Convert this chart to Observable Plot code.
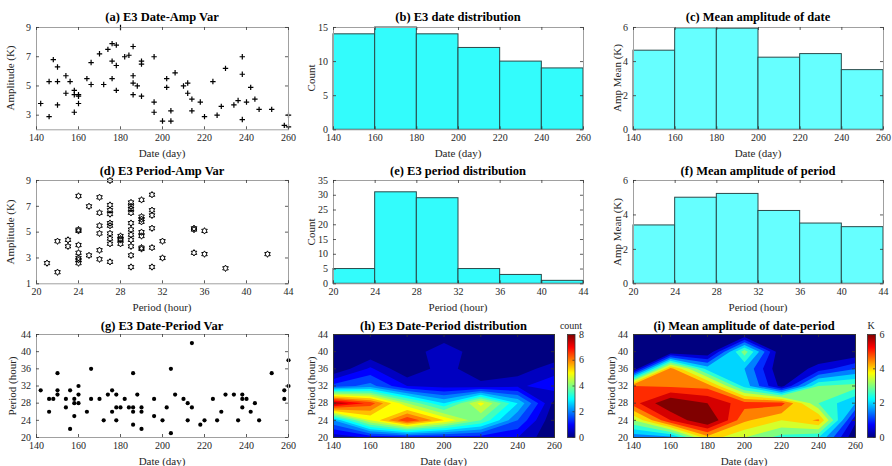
<!DOCTYPE html>
<html>
<head>
<meta charset="utf-8">
<script src="https://cdn.jsdelivr.net/npm/d3@7"></script>
<script src="https://cdn.jsdelivr.net/npm/@observablehq/plot@0.6"></script>
<style>
  body { margin: 0; background: #fff; }
  #fig { position: relative; width: 892px; height: 466px; overflow: hidden;
         font-family: "Liberation Serif", "Times New Roman", serif; color: #262626; }
  .t { position: absolute; white-space: nowrap; transform: translate(-50%, -50%); line-height: 1; }
  .title { font-weight: bold; font-size: 12.5px; color: #000; }
  .lab { font-size: 11px; }
  .rot { transform: translate(-50%, -50%) rotate(-90deg); }
  .cb { font-size: 10px; }
</style>
</head>
<body>
<div id="fig"></div>
<script>
// ---- E3 events: date vs amplitude (panel a)
const ampDates = [142,146,146,148,150,150,150,154,154,156,158,158,158,160,160,160,164,166,166,170,172,174,176,176,176,178,178,178,180,182,184,186,186,186,186,188,190,190,190,196,196,196,200,202,202,204,204,206,210,212,212,214,214,218,220,224,226,228,230,234,236,238,238,238,240,242,244,246,252,258,260,260];
const ampByDate = [3.8,2.9,5.3,6.8,6.3,5.3,3.7,5.7,4.5,5.3,4.7,4.4,3.2,4.4,3.8,4.3,5.5,6.6,5.1,7.2,5.1,7.5,7.9,6.7,5.5,7.8,6.4,4.7,9.0,7.0,7.1,7.7,5.7,5.2,4.4,5.0,6.7,6.5,4.3,7.0,3.9,3.2,2.6,5.5,4.9,3.3,2.6,5.9,5.0,5.2,4.5,4.1,3.3,3.9,2.9,5.3,3.0,3.6,6.2,3.7,4.0,7.0,5.8,2.7,3.9,4.9,4.1,3.4,3.4,2.3,3.0,2.2];

// ---- period vs amplitude (panel d)
const ampPeriods = [21,22,22,23,23,24,24,24,24,24,24,24,24,25,25,26,26,26,26,26,26,27,27,27,27,27,27,27,27,27,27,28,28,28,28,29,29,29,29,29,29,29,29,29,29,29,30,30,30,30,30,30,30,30,31,31,31,31,31,31,32,32,35,35,35,36,36,38,42];
const ampByPeriod = [2.6,1.9,4.3,4.4,3.9,7.8,5.2,5.1,4.0,3.4,3.0,2.85,2.6,7.0,3.2,7.7,6.5,5.5,4.9,3.6,2.9,9.0,7.1,6.7,6.4,5.7,5.5,4.9,4.5,4.1,2.7,4.7,4.5,4.4,4.1,7.3,7.0,6.8,6.5,5.7,5.2,4.8,4.4,3.9,3.2,2.3,7.5,6.2,6.0,5.8,5.0,4.7,3.8,3.7,7.9,6.7,6.3,5.3,3.8,2.3,4.3,3.0,5.3,5.2,3.4,5.1,3.3,2.2,3.3];

// ---- date vs period (panel g)
const eventDates = [142,146,146,148,150,150,150,154,154,156,156,158,158,158,160,160,160,164,166,166,170,172,174,176,176,178,178,178,180,182,184,186,186,186,186,188,190,190,190,196,196,200,202,204,204,206,210,212,212,214,214,218,220,224,226,228,230,234,236,238,238,238,240,242,244,246,252,258,258,260,260];
const eventPeriods = [31,26,29,29,35,31,30,27,29,31,22,29,28,25,32,30,28,26,36,29,29,24,30,31,26,30,27,24,27,29,27,35,27,26,23,30,27,26,22,29,25,24,27,36,21,30,29,28,24,42,27,23,24,29,24,26,30,30,24,30,29,27,29,26,28,24,35,29,31,32,38];

// ---- histograms by date (b, c) and by period (e, f)
const dateEdges = [140,160,180,200,220,240,260];
const dateCounts = [14,15,14,12,10,9];
const dateMeanAmp = [4.64,5.95,5.93,4.23,4.44,3.5];
const periodEdges = [20,24,28,32,36,40,44];
const periodCounts = [5,31,29,5,3,1];
const periodMeanAmp = [3.39,5.0,5.22,4.23,3.5,3.29];

// ---- date-period grids (h, i): rows = periods (ascending), columns = dates
const gridDates = [140,160,180,200,220,240,260];
const gridPeriods = [20,24,28,32,36,40,44];
const countGrid = [
  [0.6, 1.1, 1.2, 1.2, 1.2, 1.0, 0],
  [2.5, 5.0, 7.0, 5.5, 4.0, 2.0, 0],
  [8.0, 6.8, 4.5, 3.0, 5.2, 3.0, 0.3],
  [1.7, 2.2, 1.0, 0.8, 0.7, 0.9, 1.3],
  [0, 1.1, 0, 0.8, 0, 0.2, 0.8],
  [0, 0, 0, 1.0, 0, 0, 0],
  [0, 0, 0, 0, 0, 0, 0]
];
const meanAmpGrid = [
  [1.6, 1.8, 4.3, 3.5, 2.8, 2.5, 0],
  [3.5, 5.5, 6.6, 4.6, 4.0, 4.6, 0.6],
  [5.3, 6.5, 6.0, 5.2, 5.2, 3.0, 2.0],
  [5.0, 4.9, 4.8, 2.3, 0.3, 3.0, 3.2],
  [0, 4.7, 2.3, 2.0, 0, 0.7, 1.5],
  [0, 0, 0, 3.3, 0, 0, 0],
  [0, 0, 0, 0, 0, 0, 0]
];

// ---- tick values
const dateTicks = [140,160,180,200,220,240,260];
const periodTicks = [20,24,28,32,36,40,44];
const ampTicksA = [3,5,7,9];
const ampTicksD = [1,3,5,7,9];
const countTicksB = [0,5,10,15];
const countTicksE = [0,5,10,15,20,25,30,35];
const meanTicks = [0,2,4,6];

const FONT = '"Liberation Serif", "Times New Roman", serif';
const fig = document.getElementById("fig");

// jet colormap as a piecewise-linear color scale over [0, max]
const jetStops = ["#000080", "#0000ff", "#00ffff", "#ffff00", "#ff0000", "#800000"];
const jetPos = [0, 0.125, 0.375, 0.625, 0.875, 1];
const jetScale = max => ({type: "linear", domain: jetPos.map(t => t * max), range: jetStops, clamp: true});

// filled contours of a coarse date × period grid; samples sit on the grid nodes
function gridContour(grid, thresholds) {
  const dx = gridDates[1] - gridDates[0], dy = gridPeriods[1] - gridPeriods[0];
  return Plot.contour(grid.flat(), {
    width: gridDates.length, height: gridPeriods.length,
    x1: gridDates[0] - dx / 2, x2: gridDates[gridDates.length - 1] + dx / 2,
    y1: gridPeriods[0] - dy / 2, y2: gridPeriods[gridPeriods.length - 1] + dy / 2,
    fill: Plot.identity, thresholds, stroke: "none", clip: true
  });
}

// marker shapes
const plusSymbol = {
  draw(ctx, size) {
    const r = Math.sqrt(size / Math.PI);
    ctx.moveTo(-r, 0); ctx.lineTo(r, 0);
    ctx.moveTo(0, -r); ctx.lineTo(0, r);
  }
};
const hexagramSymbol = {
  draw(ctx, size) {
    const R = Math.sqrt(size / Math.PI), r = R / Math.sqrt(3);
    for (let k = 0; k < 12; k++) {
      const a = -Math.PI / 2 + k * Math.PI / 6, rad = k % 2 ? r : R;
      const px = rad * Math.cos(a), py = rad * Math.sin(a);
      if (k) ctx.lineTo(px, py); else ctx.moveTo(px, py);
    }
    ctx.closePath();
  }
};

function mount(svg, left, top) {
  svg.style.position = "absolute";
  svg.style.left = left + "px";
  svg.style.top = top + "px";
  fig.append(svg);
}

// one axes box with inward ticks on all four sides
function panel([x0, x1, y0, y1], o) {
  const ML = 40, MR = 12, MT = 6, MB = 20;
  const w = x1 - x0, h = y1 - y0;
  const tk = {stroke: "#333", strokeWidth: 0.8};
  const svg = Plot.plot({
    width: w + ML + MR, height: h + MT + MB,
    marginLeft: ML, marginRight: MR, marginTop: MT, marginBottom: MB,
    x: {domain: o.xDomain}, y: {domain: o.yDomain},
    color: o.color,
    style: {background: "transparent", fontFamily: FONT, fontSize: "10px", color: "#262626", overflow: "visible"},
    marks: [
      ...o.marks,
      Plot.frame({stroke: o.frameStroke || "#a0a0a0", strokeWidth: 1}),
      Plot.tickX(o.xTicks, {x: d => d, insetTop: h - 3, ...tk}),
      Plot.tickX(o.xTicks, {x: d => d, insetBottom: h - 3, ...tk}),
      Plot.tickY(o.yTicks, {y: d => d, insetRight: w - 3, ...tk}),
      Plot.tickY(o.yTicks, {y: d => d, insetLeft: w - 3, ...tk}),
      Plot.axisX(o.xTicks, {tickSize: 0, tickPadding: 4.5, label: null}),
      Plot.axisY(o.yTicks, {tickSize: 0, tickPadding: 5.5, label: null})
    ]
  });
  mount(svg, x0 - ML, y0 - MT);
}

function colorbar([x0, x1, y0, y1], max, ticks) {
  const ML = 4, MR = 20, MT = 6, MB = 6;
  const w = x1 - x0, h = y1 - y0;
  const svg = Plot.plot({
    width: w + ML + MR, height: h + MT + MB,
    marginLeft: ML, marginRight: MR, marginTop: MT, marginBottom: MB,
    x: {domain: [0, 1], axis: null}, y: {domain: [0, max]},
    color: jetScale(max),
    style: {background: "transparent", fontFamily: FONT, fontSize: "10px", color: "#262626", overflow: "visible"},
    marks: [
      Plot.raster({x1: 0, x2: 1, y1: 0, y2: max, fill: (x, y) => y, pixelSize: 1}),
      Plot.frame({stroke: "#333", strokeWidth: 0.8}),
      Plot.tickY(ticks, {y: d => d, insetLeft: w - 2, stroke: "#333", strokeWidth: 0.8}),
      Plot.axisY(ticks, {anchor: "right", tickSize: 0, tickPadding: 4, label: null})
    ]
  });
  mount(svg, x0 - ML, y0 - MT);
}

function text(str, x, y, cls) {
  const d = document.createElement("div");
  d.className = "t " + cls;
  d.textContent = str;
  d.style.left = x + "px";
  d.style.top = y + "px";
  fig.append(d);
}

// panel boxes [left, right, top, bottom] in page pixels
const C1 = [36, 288], C2 = [333, 583], C3 = [633, 883], C2n = [333, 554], C3n = [633, 855];
const R1 = [27, 129.3], R2 = [180, 283.3], R3 = [334.3, 437.3];

const barStyle = {stroke: "#2a4a4a", strokeWidth: 1};
const dateBins = dateEdges.slice(0, -1).map((e, i) => ({x1: e, x2: dateEdges[i + 1], count: dateCounts[i], mean: dateMeanAmp[i]}));
const periodBins = periodEdges.slice(0, -1).map((e, i) => ({x1: e, x2: periodEdges[i + 1], count: periodCounts[i], mean: periodMeanAmp[i]}));

// (a) date-amplitude scatter
panel([...C1, ...R1], {
  xDomain: [140, 260], yDomain: [2, 9], xTicks: dateTicks, yTicks: ampTicksA,
  marks: [Plot.dot(ampByDate, {x: ampDates, y: ampByDate, symbol: plusSymbol, r: 2.7, fill: "none", stroke: "#000", strokeWidth: 1.2})]
});
// (b) date histogram
panel([...C2, ...R1], {
  xDomain: [140, 260], yDomain: [0, 15], xTicks: dateTicks, yTicks: countTicksB,
  marks: [Plot.rectY(dateBins, {x1: "x1", x2: "x2", y: "count", fill: "#33fcfc", ...barStyle})]
});
// (c) mean amplitude by date
panel([...C3, ...R1], {
  xDomain: [140, 260], yDomain: [0, 6], xTicks: dateTicks, yTicks: meanTicks,
  marks: [Plot.rectY(dateBins, {x1: "x1", x2: "x2", y: "mean", fill: "#66ffff", ...barStyle})]
});
// (d) period-amplitude scatter
panel([...C1, ...R2], {
  xDomain: [20, 44], yDomain: [1, 9], xTicks: periodTicks, yTicks: ampTicksD,
  marks: [Plot.dot(ampByPeriod, {x: ampPeriods, y: ampByPeriod, symbol: hexagramSymbol, r: 3.2, fill: "none", stroke: "#000", strokeWidth: 1})]
});
// (e) period histogram
panel([...C2, ...R2], {
  xDomain: [20, 44], yDomain: [0, 35], xTicks: periodTicks, yTicks: countTicksE,
  marks: [Plot.rectY(periodBins, {x1: "x1", x2: "x2", y: "count", fill: "#33fcfc", ...barStyle})]
});
// (f) mean amplitude by period
panel([...C3, ...R2], {
  xDomain: [20, 44], yDomain: [0, 6], xTicks: periodTicks, yTicks: meanTicks,
  marks: [Plot.rectY(periodBins, {x1: "x1", x2: "x2", y: "mean", fill: "#66ffff", ...barStyle})]
});
// (g) date-period scatter
panel([...C1, ...R3], {
  xDomain: [140, 260], yDomain: [20, 44], xTicks: dateTicks, yTicks: periodTicks,
  marks: [Plot.dot(eventPeriods, {x: eventDates, y: eventPeriods, r: 2.1, fill: "#000", stroke: "none"})]
});
// (h) date-period count, filled contours
panel([...C2n, ...R3], {
  xDomain: [140, 260], yDomain: [20, 44], xTicks: dateTicks, yTicks: periodTicks,
  color: jetScale(8), frameStroke: "#333",
  marks: [gridContour(countGrid, d3.range(0, 8.01, 0.5))]
});
colorbar([567, 574.5, ...R3], 8, [0, 2, 4, 6, 8]);
// (i) date-period mean amplitude, filled contours
panel([...C3n, ...R3], {
  xDomain: [140, 260], yDomain: [20, 44], xTicks: dateTicks, yTicks: periodTicks,
  color: jetScale(6), frameStroke: "#333",
  marks: [gridContour(meanAmpGrid, d3.range(0, 6.01, 0.5))]
});
colorbar([867, 875, ...R3], 6, [0, 2, 4, 6]);

// titles
text("(a) E3 Date-Amp Var", 162, 17, "title");
text("(b) E3 date distribution", 458, 17, "title");
text("(c) Mean amplitude of date", 758, 17, "title");
text("(d) E3 Period-Amp Var", 162, 171, "title");
text("(e) E3 period distribution", 458, 171, "title");
text("(f) Mean amplitude of period", 758, 171, "title");
text("(g) E3 Date-Period Var", 162, 325.5, "title");
text("(h) E3 Date-Period distribution", 443.5, 325.5, "title");
text("(i) Mean amplitude of date-period", 744, 325.5, "title");

// x labels
for (const x of [162, 458, 758]) text("Date (day)", x, 153, "lab");
for (const x of [162, 458, 758]) text("Period (hour)", x, 307, "lab");
for (const x of [162, 443.5, 744]) text("Date (day)", x, 461, "lab");

// y labels
text("Amplitude (K)", 10, 78, "lab rot");
text("Count", 310.5, 78, "lab rot");
text("Amp Mean (K)", 616.5, 78, "lab rot");
text("Amplitude (K)", 10, 231.5, "lab rot");
text("Count", 310.5, 231.5, "lab rot");
text("Amp Mean (K)", 616.5, 231.5, "lab rot");
text("Period (hour)", 11.5, 386, "lab rot");
text("Period (hour)", 310.5, 386, "lab rot");
text("Period (hour)", 610.5, 386, "lab rot");

// colorbar captions
text("count", 571, 325.5, "cb");
text("K", 871, 325.5, "cb");
</script>
</body>
</html>
